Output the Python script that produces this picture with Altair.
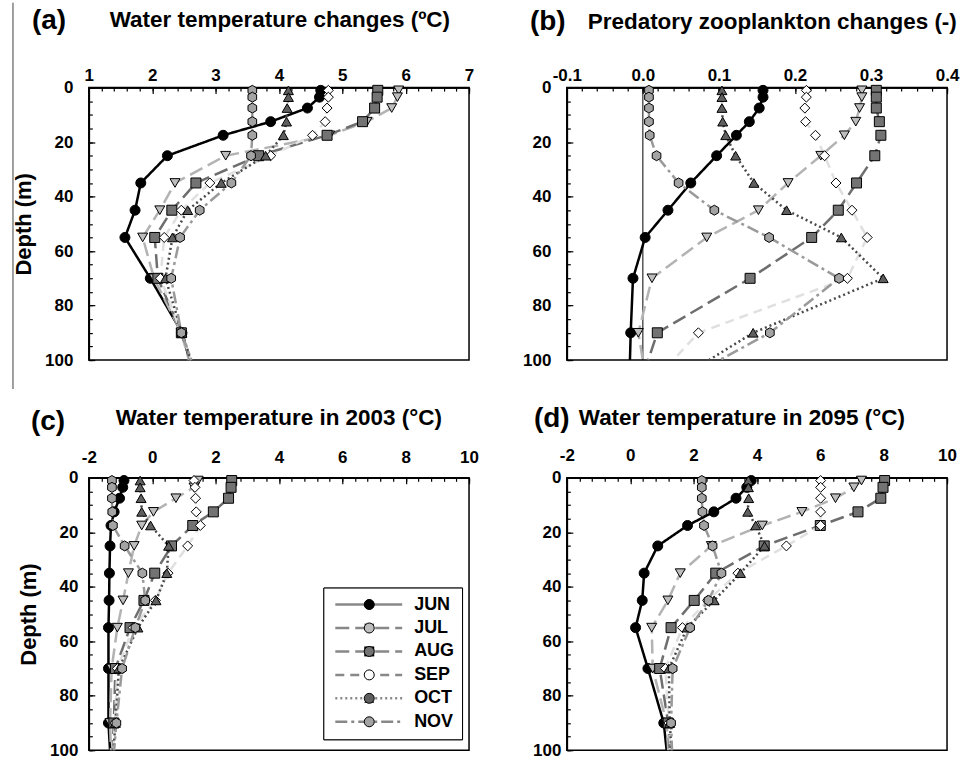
import altair as alt
import pandas as pd

FONT = "Liberation Sans"

months = ["JUN", "JUL", "AUG", "SEP", "OCT", "NOV"]
# sampling depths of the profiles; the curves leave the frame at 100 m (no marker there)
depths = [1, 3.5, 7.5, 12.5, 17.5, 25, 35, 45, 55, 70, 90, 100]

# (a) Water temperature changes (degC)
a_jun = [4.66, 4.64, 4.45, 3.87, 3.12, 2.24, 1.82, 1.73, 1.57, 1.97, 2.47, 2.59]
a_jul = [5.89, 5.87, 5.78, 5.39, 4.80, 3.16, 2.36, 2.12, 1.85, 2.03, 2.46, 2.58]
a_aug = [5.56, 5.55, 5.51, 5.32, 4.76, 3.68, 2.69, 2.31, 2.04, 2.09, 2.46, 2.60]
a_sep = [4.78, 4.78, 4.76, 4.73, 4.53, 3.87, 2.91, 2.46, 2.19, 2.13, 2.46, 2.61]
a_oct = [4.15, 4.15, 4.13, 4.12, 4.07, 3.79, 3.09, 2.56, 2.32, 2.21, 2.47, 2.61]
a_nov = [3.58, 3.58, 3.58, 3.58, 3.58, 3.56, 3.25, 2.75, 2.44, 2.30, 2.46, 2.62]

# (b) Predatory zooplankton changes (-)
b_jun = [0.158, 0.158, 0.153, 0.140, 0.123, 0.097, 0.063, 0.033, 0.003, -0.013, -0.016, -0.017]
b_jul = [0.288, 0.288, 0.285, 0.280, 0.265, 0.234, 0.191, 0.152, 0.084, 0.012, -0.006, 0.000]
b_aug = [0.307, 0.307, 0.307, 0.311, 0.313, 0.305, 0.281, 0.257, 0.222, 0.141, 0.019, 0.007]
b_sep = [0.215, 0.215, 0.213, 0.214, 0.227, 0.239, 0.254, 0.275, 0.295, 0.269, 0.073, 0.040]
b_oct = [0.104, 0.104, 0.104, 0.105, 0.109, 0.122, 0.146, 0.189, 0.261, 0.316, 0.145, 0.087]
b_nov = [0.008, 0.008, 0.008, 0.008, 0.009, 0.018, 0.047, 0.094, 0.166, 0.258, 0.167, 0.101]

# (c) Water temperature in 2003 (degC)
c_jun = [-0.89, -0.93, -1.03, -1.20, -1.30, -1.33, -1.35, -1.36, -1.38, -1.38, -1.38, -1.33]
c_jul = [1.45, 1.32, 0.75, 0.04, -0.33, -0.57, -0.75, -0.92, -1.10, -1.28, -1.33, -1.30]
c_aug = [2.51, 2.49, 2.41, 1.93, 1.28, 0.61, 0.08, -0.26, -0.70, -1.16, -1.21, -1.25]
c_sep = [1.32, 1.35, 1.37, 1.39, 1.52, 1.12, 0.50, 0.10, -0.60, -1.10, -1.18, -1.22]
c_oct = [-0.38, -0.38, -0.35, -0.33, -0.05, 0.52, 0.46, 0.12, -0.45, -1.05, -1.16, -1.22]
c_nov = [-1.27, -1.27, -1.27, -1.26, -1.24, -0.87, -0.31, -0.22, -0.53, -0.95, -1.13, -1.20]

# (d) Water temperature in 2095 (degC)
d_jun = [3.82, 3.68, 3.34, 2.64, 1.81, 0.87, 0.44, 0.38, 0.17, 0.56, 1.06, 1.15]
d_jul = [7.30, 7.06, 6.48, 5.42, 4.17, 2.56, 1.58, 1.19, 0.68, 0.71, 1.15, 1.20]
d_aug = [8.03, 7.98, 7.91, 7.19, 6.00, 4.23, 2.70, 2.02, 1.29, 0.93, 1.20, 1.25]
d_sep = [6.01, 6.01, 6.01, 6.01, 6.01, 4.93, 3.40, 2.44, 1.65, 1.11, 1.22, 1.27]
d_oct = [3.73, 3.73, 3.74, 3.71, 3.96, 4.24, 3.48, 2.65, 1.80, 1.22, 1.25, 1.30]
d_nov = [2.26, 2.26, 2.26, 2.28, 2.33, 2.60, 2.88, 2.47, 1.89, 1.34, 1.29, 1.32]

# axis ticks: labelled majors and unlabelled minors
a_major = [1, 2, 3, 4, 5, 6, 7]
a_minor = [round(1 + 0.2 * i, 3) for i in range(31)]
b_major = [-0.1, 0.0, 0.1, 0.2, 0.3, 0.4]
b_minor = [round(-0.1 + 0.02 * i, 3) for i in range(26)]
cd_major = [-2, 0, 2, 4, 6, 8, 10]
cd_minor = [round(-2 + 0.4 * i, 3) for i in range(31)]
y_major = [0, 20, 40, 60, 80, 100]
y_minor = list(range(0, 101, 5))

# styles
line_colors = ["#000000", "#b3b3b3", "#6e6e6e", "#e0e0e0", "#4a4a4a", "#9a9a9a"]
fill_colors = ["#000000", "#bdbdbd", "#737373", "#ffffff", "#5f5f5f", "#a3a3a3"]
dashes = [[1, 0], [14, 6], [14, 6], [9, 6], [2, 3], [12, 4, 3, 4]]
HEX = "M0,-1L0.866,-0.5L0.866,0.5L0,1L-0.866,0.5L-0.866,-0.5Z"
shapes = ["circle", "triangle-down", "square", "diamond", "triangle-up", HEX]


def build(series):
    rows = []
    for m, vals in zip(months, series):
        for d, v in zip(depths, vals):
            rows.append({"month": m, "month_p": m, "depth": d, "value": v, "marker": d < 100})
    return pd.DataFrame(rows)


def txt(text, x, y, size):
    return alt.Chart(pd.DataFrame({"t": [text]})).mark_text(
        align="left", baseline="alphabetic", font=FONT, fontSize=size, fontWeight="bold", color="black"
    ).encode(text="t:N", x=alt.value(x), y=alt.value(y))


def panel(series, xdom, xmajor, xminor, fmt, title, title_xy, tag, tag_xy,
          ytitle, ylabpad, xlabpad, show_legend=False, zero_line=False, page_rule=False):
    df = build(series)
    base = dict(domainColor="black", domainWidth=1.5, tickColor="black", tickWidth=1.2,
                labelFont=FONT, labelFontSize=17, labelFontWeight="bold", labelColor="black",
                labelFlush=False, labelOverlap=False, grid=False)
    x_major_axis = alt.Axis(orient="top", values=xmajor, format=fmt, tickSize=alt.ExprRef("-6"),
                            labelExpr="replace(datum.label, '\u2212', '-')",
                            labelPadding=xlabpad, **base)
    x_minor_axis = alt.Axis(orient="top", values=xminor, tickSize=alt.ExprRef("-3.5"), labels=False,
                            **base)
    y_major_axis = alt.Axis(orient="left", values=y_major, tickSize=alt.ExprRef("-6"),
                            labelPadding=ylabpad, titleFont=FONT, titleFontSize=22,
                            titleFontWeight="bold", titleColor="black", titlePadding=9, **base)
    y_minor_axis = alt.Axis(orient="left", values=y_minor, tickSize=alt.ExprRef("-3.5"), labels=False,
                            **base)
    xscale = alt.Scale(domain=xdom, nice=False, zero=False)
    yscale = alt.Scale(domain=[0, 100], reverse=True, nice=False, zero=False)

    if show_legend:
        leg_line = alt.Legend(orient="none", legendX=235, legendY=110, symbolType="M-1,0L12.4,0",
                              symbolSize=100, symbolStrokeWidth=2.5, labelFont=FONT, labelFontSize=18,
                              labelFontWeight="bold", labelColor="black", labelOffset=65, rowPadding=5.5,
                              padding=8, strokeColor="black", fillColor="white")
        leg_pt = alt.Legend(orient="none", legendX=264, legendY=110, symbolSize=100,
                            symbolStrokeWidth=1, symbolStrokeColor="black", labelFont=FONT,
                            labelFontSize=18, labelFontWeight="bold", labelExpr="' '", labelOffset=0,
                            rowPadding=5.5, padding=8)
    else:
        leg_line = None
        leg_pt = None

    lines = alt.Chart(df).mark_line(strokeWidth=2.5).encode(
        x=alt.X("value:Q", scale=xscale, axis=x_major_axis, title=""),
        y=alt.Y("depth:Q", scale=yscale, axis=y_major_axis, title=ytitle),
        color=alt.Color("month:N", sort=months, scale=alt.Scale(range=line_colors), legend=leg_line, title=""),
        strokeDash=alt.StrokeDash("month:N", sort=months, scale=alt.Scale(range=dashes), legend=leg_line, title=""),
        order=alt.Order("depth:Q"),
    )
    pts = alt.Chart(df).transform_filter("datum.marker").mark_point(
        filled=True, size=100, stroke="black", strokeWidth=1, opacity=1
    ).encode(
        x=alt.X("value:Q", scale=xscale, axis=x_minor_axis, title=""),
        y=alt.Y("depth:Q", scale=yscale, axis=y_minor_axis, title=""),
        fill=alt.Fill("month_p:N", sort=months, scale=alt.Scale(range=fill_colors), legend=leg_pt, title=""),
        shape=alt.Shape("month_p:N", sort=months, scale=alt.Scale(range=shapes), legend=leg_pt, title=""),
    )
    layers = []
    if zero_line:
        layers.append(alt.Chart(pd.DataFrame({"z": [0]})).mark_rule(color="black", strokeWidth=1).encode(
            x=alt.XDatum(0, axis=None)))
    layers += [lines, pts]
    layers.append(txt(tag, tag_xy[0], tag_xy[1], 28))
    layers.append(txt(title, title_xy[0], title_xy[1], 22.5))
    if page_rule:
        layers.append(alt.Chart(pd.DataFrame({"z": [0]})).mark_rule(color="#808080", strokeWidth=1.5).encode(
            x=alt.value(-76), y=alt.value(-85), y2=alt.value(302)))
    return alt.layer(*layers).resolve_axis(x="independent", y="independent").properties(width=381, height=273)


pa = panel([a_jun, a_jul, a_aug, a_sep, a_oct, a_nov], [1, 7], a_major, a_minor, "d",
           "Water temperature changes (ºC)", (21, -61), "(a)", (-57, -59), "Depth (m)", 22, 9,
           page_rule=True)
pb = panel([b_jun, b_jul, b_aug, b_sep, b_oct, b_nov], [-0.1, 0.4], b_major, b_minor, ".1f",
           "Predatory zooplankton changes (-)", (21, -59), "(b)", (-37, -58), "", 22, 9, zero_line=True)
pc = panel([c_jun, c_jul, c_aug, c_sep, c_oct, c_nov], [-2, 10], cd_major, cd_minor, "d",
           "Water temperature in 2003 (°C)", (27, -53), "(c)", (-58, -48), "Depth (m)", 17, 17,
           show_legend=True)
pd_ = panel([d_jun, d_jul, d_aug, d_sep, d_oct, d_nov], [-2, 10], cd_major, cd_minor, "d",
            "Water temperature in 2095 (°C)", (12, -53), "(d)", (-33, -51), "", 12, 19)

chart = alt.concat(
    pa, pb, pc, pd_, columns=2, spacing=alt.RowColnumber(row=118, column=98), bounds="flush",
    padding={"left": 11, "top": 0, "right": 4, "bottom": 4},
).resolve_scale(
    color="independent", strokeDash="independent", fill="independent", shape="independent"
).resolve_legend(
    color="independent", strokeDash="independent", fill="independent", shape="independent"
).configure_view(stroke="black", strokeWidth=1.5)

chart.save("out.html", embed_options={"renderer": "svg", "actions": False})
